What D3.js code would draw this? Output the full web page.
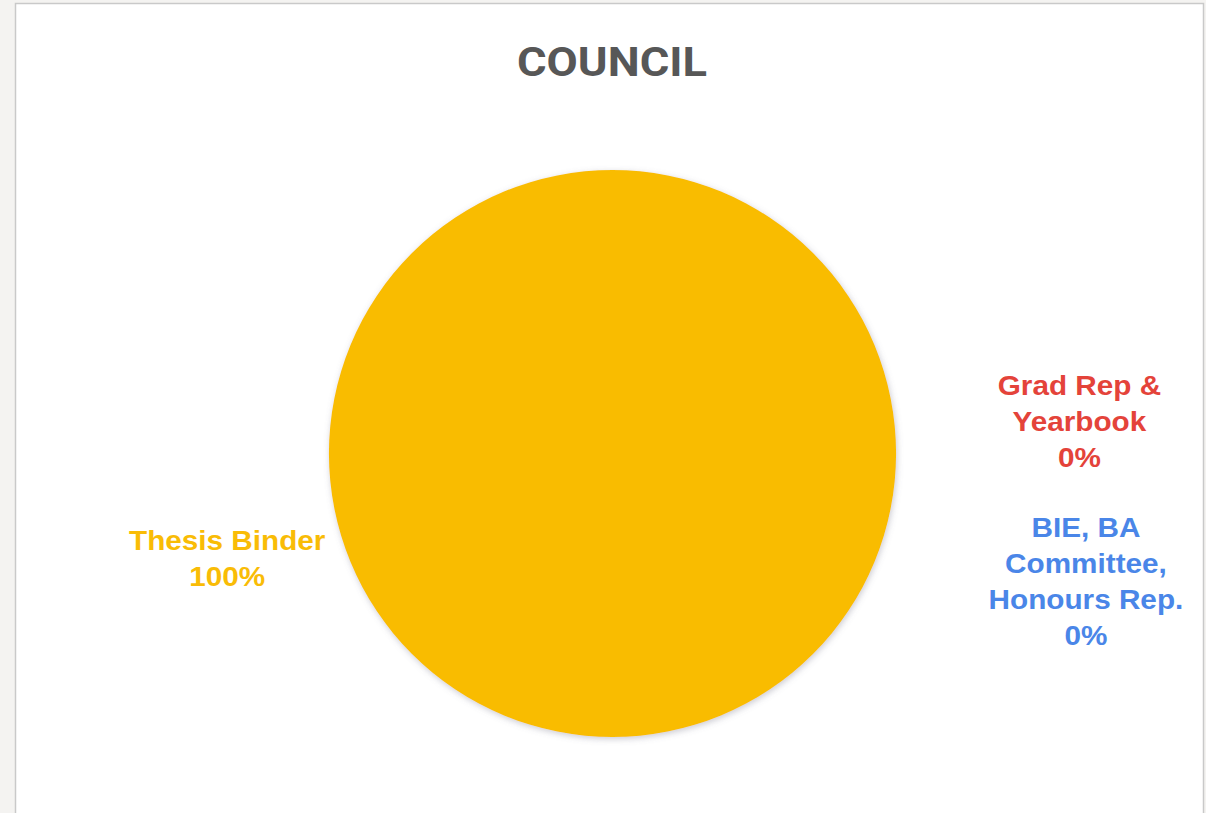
<!DOCTYPE html>
<html><head><meta charset="utf-8">
<script src="https://cdn.jsdelivr.net/npm/d3@7"></script>
<style>
html,body{margin:0;padding:0;background:#f4f3f1;}
svg{display:block;}
</style></head>
<body>
<svg id="c" width="1206" height="813"></svg>
<script>
const title = "COUNCIL";
const categories = ["Thesis Binder", "Grad Rep & Yearbook", "BIE, BA Committee, Honours Rep."];
const values = [100, 0, 0];
const labelLines = [["Thesis Binder"], ["Grad Rep &", "Yearbook"], ["BIE, BA", "Committee,", "Honours Rep."]];
const colors = ["#F9BC06", "#E4433A", "#4A86E8"];

const W = 1206, H = 813;
const svg = d3.select("#c");
svg.append("rect").attr("x", 15.5).attr("y", 3.5).attr("width", 1188).attr("height", 830)
  .attr("fill", "#fff").attr("stroke", "#c9c9c9").attr("stroke-width", 1.5);

const defs = svg.append("defs");
const f = defs.append("filter").attr("id", "sh").attr("x", "-10%").attr("y", "-10%").attr("width", "120%").attr("height", "120%");
f.append("feDropShadow").attr("dx", 1).attr("dy", 2).attr("stdDeviation", 3)
  .attr("flood-color", "#6a6a80").attr("flood-opacity", 0.35);

svg.append("text").attr("x", 612).attr("y", 76).attr("text-anchor", "middle")
  .attr("font-family", "Roboto, 'Open Sans', sans-serif").attr("font-weight", 700)
  .attr("font-size", 40).attr("fill", "#575757").attr("textLength", 190).attr("lengthAdjust", "spacingAndGlyphs")
  .text(title);

const cx = 612.5, cy = 453.5, R = 283.5;
const total = d3.sum(values);
const data = categories.map((c, i) => ({cat: c, value: values[i], lines: labelLines[i], color: colors[i]}));
const pie = d3.pie().value(d => d.value).sort(null);
const arcs = pie(data);
const arc = d3.arc().innerRadius(0).outerRadius(R);

const g = svg.append("g").attr("transform", `translate(${cx},${cy})`);
g.selectAll("path").data(arcs.filter(a => a.data.value > 0)).join("path")
  .attr("d", arc).attr("fill", d => d.data.color).attr("filter", "url(#sh)");

// label anchor positions relative to pie (in units of radius)
const labelPos = [[-1.359, 0.369], [1.647, -0.111], [1.67, 0.453]];
const fmt = d => Math.round(d / total * 100) + "%";
const lh = 36;
arcs.forEach((a, i) => {
  const lines = a.data.lines.concat([fmt(a.data.value)]);
  const x = labelPos[i][0] * R, yc = labelPos[i][1] * R;
  const y0 = -(lines.length - 1) * lh / 2;
  const t = g.append("text").attr("text-anchor", "middle")
    .attr("transform", `translate(${x},${yc}) scale(1.1,1)`)
    .attr("font-family", "'Liberation Sans', Arial, sans-serif").attr("font-weight", 700)
    .attr("font-size", 27).attr("fill", a.data.color);
  lines.forEach((l, j) => {
    t.append("tspan").attr("x", 0).attr("y", y0 + j * lh).attr("dy", "0.35em").text(l);
  });
});
</script>
</body></html>
